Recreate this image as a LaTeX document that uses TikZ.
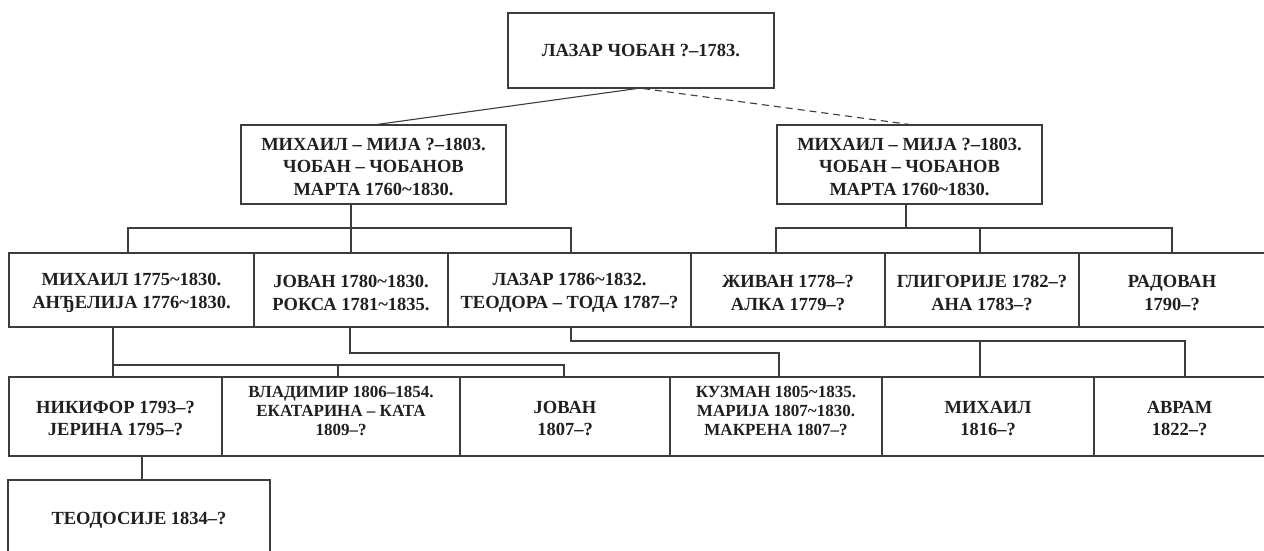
\documentclass[tikz,border=0pt]{standalone}
\usepackage{fontspec}
\setmainfont{Liberation Serif}
\usetikzlibrary{calc}
\newcommand\wv{\string~}
\newcommand\hs[1]{\rule{0pt}{#1pt}}
\newcommand\ds[1]{\rule[-#1pt]{0pt}{#1pt}}
\definecolor{ink}{HTML}{231F20}
\definecolor{edgec}{HTML}{3C3C3C}
\begin{document}
\begin{tikzpicture}[x=1pt,y=-1pt,
  box/.style={draw=edgec, line width=1.1pt, inner sep=0pt, align=center,
    font=\fontsize{18.5}{22.5}\selectfont\bfseries, text=ink},
  tightbox/.style={box, font=\fontsize{17}{19.2}\selectfont\bfseries},
  conn/.style={draw=edgec, line width=1.1pt},
  dconn/.style={conn, dash pattern=on 7pt off 5pt}]
\useasboundingbox (0,0) rectangle (1264,551);
\fill[white] (0,0) rectangle (1264,551);

% generation 0
\node[box, minimum width=266, minimum height=75] (T) at (641,50.5) {ЛАЗАР ЧОБАН ?–1783.};
% generation 1
\node[box, minimum width=265, minimum height=79] (L1) at (373.5,164.5)
  {\hs{16.5}МИХАИЛ – МИЈА ?–1803.\\ЧОБАН – ЧОБАНОВ\\МАРТА 1760\wv 1830.};
\node[box, minimum width=265, minimum height=79] (R1) at (909.5,164.5)
  {\hs{16.5}МИХАИЛ – МИЈА ?–1803.\\ЧОБАН – ЧОБАНОВ\\МАРТА 1760\wv 1830.};
% generation 2
\node[box, minimum width=245, minimum height=74] (A1) at (131.5,290) {\hs{18.2}МИХАИЛ 1775\wv 1830.\\АНЂЕЛИЈА 1776\wv 1830.};
\node[box, minimum width=194, minimum height=74] (A2) at (351,290) {\hs{18.2}ЈОВАН 1780\wv 1830.\\РОКСА 1781\wv 1835.};
\node[box, minimum width=243, minimum height=74] (A3) at (569.5,290) {\hs{18.2}ЛАЗАР 1786\wv 1832.\\ТЕОДОРА – ТОДА 1787–?};
\node[box, minimum width=194, minimum height=74] (A4) at (788,290) {\hs{18.2}ЖИВАН 1778–?\\АЛКА 1779–?};
\node[box, minimum width=194, minimum height=74] (A5) at (982,290) {\hs{18.2}ГЛИГОРИЈЕ 1782–?\\АНА 1783–?};
\node[box, minimum width=186, minimum height=74] (A6) at (1172,290) {\hs{18.2}РАДОВАН\\1790–?};
% generation 3
\node[box, minimum width=213, minimum height=79] (B1) at (115.5,416.5) {\hs{16.5}НИКИФОР 1793–?\\ЈЕРИНА 1795–?};
\node[tightbox, minimum width=238, minimum height=79] (B2) at (341,416.5) {ВЛАДИМИР 1806–1854.\\ЕКАТАРИНА – КАТА\\1809–?\ds{11}};
\node[box, minimum width=210, minimum height=79] (B3) at (565,416.5) {\hs{16.5}ЈОВАН\\1807–?};
\node[tightbox, minimum width=212, minimum height=79] (B4) at (776,416.5) {КУЗМАН 1805\wv 1835.\\МАРИЈА 1807\wv 1830.\\МАКРЕНА 1807–?\ds{11}};
\node[box, minimum width=212, minimum height=79] (B5) at (988,416.5) {\hs{16.5}МИХАИЛ\\1816–?};
\node[box, minimum width=171, minimum height=79] (B6) at (1179.5,416.5) {\hs{16.5}АВРАМ\\1822–?};
% generation 4
\node[box, minimum width=262, minimum height=80] (C1) at (139,520) {ТЕОДОСИЈЕ 1834–?};

% connector levels
\coordinate (yTop) at (0,228);
\coordinate (yM) at (0,365);
\coordinate (yJ) at (0,353);
\coordinate (yZ) at (0,341);

% top
\draw[conn] ([xshift=-4pt]T.south) -- ([xshift=3.5pt]L1.north);
\draw[dconn] ([xshift=2pt]T.south) -- (R1.north);

% left parent -> row 2
\coordinate (a1t) at ([xshift=-3.5pt]A1.north);
\coordinate (a3t) at ([xshift=1.5pt]A3.north);
\draw[conn] (L1.south -| A2.north) -- (A2.north);
\draw[conn] (a1t) -- (a1t |- yTop) -| (a3t);

% right parent -> row 2
\coordinate (r1b) at ([xshift=-3.5pt]R1.south);
\coordinate (a4t) at ([xshift=-12pt]A4.north);
\coordinate (a5t) at ([xshift=-2pt]A5.north);
\draw[conn] (r1b) -- (r1b |- yTop);
\draw[conn] (a4t) -- (a4t |- yTop) -| (A6.north);
\draw[conn] (a5t) -- (a5t |- yTop);

% A1 -> B1, B2, B3
\coordinate (a1b) at ([xshift=-18.5pt]A1.south);
\coordinate (b2t) at ([xshift=-3pt]B2.north);
\coordinate (b3t) at ([xshift=-1pt]B3.north);
\draw[conn] (a1b) -- (a1b |- B1.north);
\draw[conn] (a1b |- yM) -| (b3t);
\draw[conn] (b2t) -- (b2t |- yM);

% A2 -> B4
\coordinate (a2b) at ([xshift=-1pt]A2.south);
\coordinate (b4t) at ([xshift=3pt]B4.north);
\draw[conn] (a2b) -- (a2b |- yJ) -| (b4t);

% A3 -> B5, B6
\coordinate (a3b) at ([xshift=1.5pt]A3.south);
\coordinate (b5t) at ([xshift=-8pt]B5.north);
\coordinate (b6t) at ([xshift=5.5pt]B6.north);
\draw[conn] (a3b) -- (a3b |- yZ) -| (b6t);
\draw[conn] (b5t) -- (b5t |- yZ);

% B1 -> C1
\coordinate (c1t) at ([xshift=3pt]C1.north);
\draw[conn] (B1.south -| c1t) -- (c1t);
\end{tikzpicture}
\end{document}
